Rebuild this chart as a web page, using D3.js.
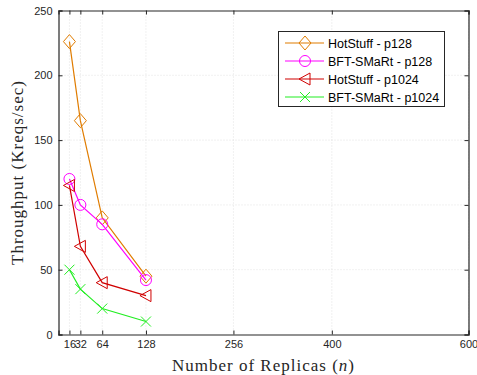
<!DOCTYPE html>
<html>
<head>
<meta charset="utf-8">
<script src="https://cdn.jsdelivr.net/npm/d3@7"></script>
<style>
  html, body { margin: 0; padding: 0; background: #fff; }
  svg { display: block; }
</style>
</head>
<body>
<svg id="chart" width="477" height="375"></svg>
<script>
// Replica counts on the x axis
const replicas = [16, 32, 64, 128];
// Throughput (Kreqs/sec) per configuration
const hotstuffP128 = [226, 165, 90, 45];
const bftsmartP128 = [120, 100, 85, 42];
const hotstuffP1024 = [115, 68, 40, 30];
const bftsmartP1024 = [50, 35, 20, 10];
const seriesNames = ["HotStuff - p128", "BFT-SMaRt - p128", "HotStuff - p1024", "BFT-SMaRt - p1024"];
const xTicks = [16, 32, 64, 128, 256, 400, 600];
const yTicks = [0, 50, 100, 150, 200, 250];

const series = [
  { name: seriesNames[0], values: hotstuffP128, color: "#e07c00", marker: "diamond" },
  { name: seriesNames[1], values: bftsmartP128, color: "#ff00ff", marker: "circle" },
  { name: seriesNames[2], values: hotstuffP1024, color: "#d00000", marker: "triangleLeft" },
  { name: seriesNames[3], values: bftsmartP1024, color: "#22ee22", marker: "cross" }
];

const svg = d3.select("#chart");
const L = 58.5, R = 468.5, T = 10.5, B = 334.5;

const x = d3.scaleLinear().domain([0, 600]).range([L, R]);
const y = d3.scaleLinear().domain([0, 250]).range([B, T]);

// Dotted grid
const grid = svg.append("g");
grid.selectAll("line.vx").data(xTicks).join("line")
  .attr("x1", d => x(d)).attr("x2", d => x(d))
  .attr("y1", T).attr("y2", B)
  .attr("stroke", "#dcdcdc").attr("stroke-width", 0.8).attr("stroke-dasharray", "1,2");
grid.selectAll("line.hy").data(yTicks.filter(d => d > 0 && d < 250)).join("line")
  .attr("x1", L).attr("x2", R)
  .attr("y1", d => y(d)).attr("y2", d => y(d))
  .attr("stroke", "#dcdcdc").attr("stroke-width", 0.8).attr("stroke-dasharray", "1,2");

// Axes with ticks on all four sides
const axisStyle = g => {
  g.selectAll("text").attr("font-family", "Liberation Sans, Arial, sans-serif")
    .attr("font-size", 11).attr("fill", "#262626");
  g.selectAll("line").attr("stroke", "#262626");
  g.select(".domain").attr("stroke", "#262626");
};
svg.append("g").attr("transform", `translate(0,${B})`)
  .call(d3.axisBottom(x).tickValues(xTicks).tickSize(-4).tickPadding(6).tickFormat(d3.format("d")))
  .call(axisStyle);
svg.append("g").attr("transform", `translate(0,${T})`)
  .call(d3.axisTop(x).tickValues(xTicks).tickSize(-4).tickFormat(""))
  .call(axisStyle);
svg.append("g").attr("transform", `translate(${L},0)`)
  .call(d3.axisLeft(y).tickValues(yTicks).tickSize(-4).tickPadding(6))
  .call(axisStyle);
svg.append("g").attr("transform", `translate(${R},0)`)
  .call(d3.axisRight(y).tickValues(yTicks).tickSize(-4).tickFormat(""))
  .call(axisStyle);
svg.selectAll(".domain").attr("stroke-width", 1.2);

// Marker drawing
function drawMarker(g, type, color) {
  if (type === "diamond") {
    g.append("path").attr("d", "M0,-7L6,0L0,7L-6,0Z")
      .attr("fill", "none").attr("stroke", color).attr("stroke-width", 1);
  } else if (type === "circle") {
    g.append("circle").attr("r", 5.5)
      .attr("fill", "none").attr("stroke", color).attr("stroke-width", 1);
  } else if (type === "triangleLeft") {
    g.append("path").attr("d", "M-6,0L5,-6L5,6Z")
      .attr("fill", "none").attr("stroke", color).attr("stroke-width", 1);
  } else if (type === "cross") {
    g.append("path").attr("d", "M-5,-5L5,5M-5,5L5,-5")
      .attr("fill", "none").attr("stroke", color).attr("stroke-width", 1);
  }
}

const line = d3.line().x(d => x(d[0])).y(d => y(d[1]));
series.forEach(s => {
  const pts = replicas.map((r, i) => [r, s.values[i]]);
  svg.append("path").datum(pts).attr("d", line)
    .attr("fill", "none").attr("stroke", s.color).attr("stroke-width", 1.2);
  pts.forEach(p => {
    const g = svg.append("g").attr("transform", `translate(${x(p[0])},${y(p[1])})`);
    drawMarker(g, s.marker, s.color);
  });
});

// Legend
const legend = svg.append("g");
legend.append("rect").attr("x", 278.5).attr("y", 31.5).attr("width", 166).attr("height", 75)
  .attr("fill", "#fff").attr("stroke", "#262626").attr("stroke-width", 1);
series.forEach((s, i) => {
  const ly = 43 + i * 18;
  legend.append("line").attr("x1", 285).attr("x2", 324).attr("y1", ly).attr("y2", ly)
    .attr("stroke", s.color).attr("stroke-width", 1.2);
  const g = legend.append("g").attr("transform", `translate(305,${ly})`);
  drawMarker(g, s.marker, s.color);
  legend.append("text").attr("x", 328).attr("y", ly + 4.5).text(s.name)
    .attr("font-family", "Liberation Sans, Arial, sans-serif").attr("font-size", 12.5)
    .attr("fill", "#000");
});

// Axis titles
svg.append("text").attr("x", (L + R) / 2).attr("y", 371).attr("text-anchor", "middle")
  .attr("font-family", "Liberation Serif, Times New Roman, serif").attr("font-size", 17)
  .attr("letter-spacing", 1).attr("fill", "#262626")
  .html('Number of Replicas (<tspan font-style="italic">n</tspan>)');
svg.append("text").attr("transform", `translate(23,${(T + B) / 2}) rotate(-90)`)
  .attr("text-anchor", "middle")
  .attr("font-family", "Liberation Serif, Times New Roman, serif").attr("font-size", 17)
  .attr("letter-spacing", 1).attr("fill", "#262626")
  .text("Throughput (Kreqs/sec)");
</script>
</body>
</html>
